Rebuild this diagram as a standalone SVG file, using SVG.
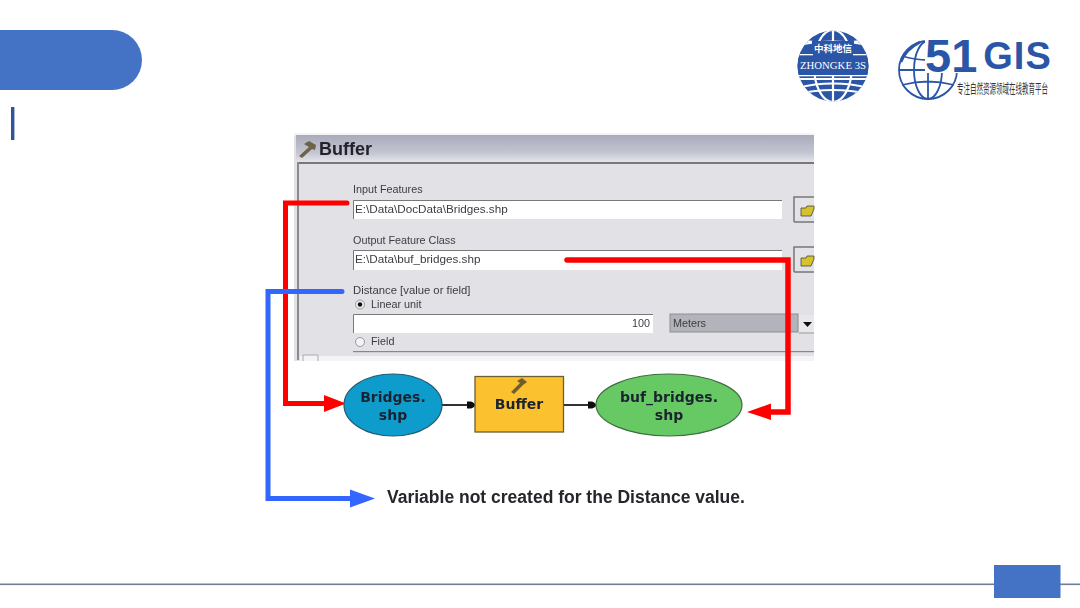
<svg xmlns="http://www.w3.org/2000/svg" width="1080" height="608" viewBox="0 0 1080 608">
<style>
.ui{font-family:"Liberation Sans",Arial,sans-serif;font-size:10.800px;fill:#3c3c40}
.val{font-size:11.700px}
.node{font-family:"DejaVu Sans",sans-serif;font-weight:bold;font-size:14px;fill:#1c2430;text-anchor:middle}
.field{fill:#fff}
.edge{fill:none;stroke-linejoin:miter}
.logo{fill:#2b55a6}
.cut{fill:none;stroke:#fff}
.btn{fill:#e4e4e8;stroke:#77777b;stroke-width:1.500}
.soft{filter:url(#soft)}
</style>
<defs>
<filter id="soft" x="-2%" y="-2%" width="104%" height="104%"><feGaussianBlur stdDeviation="0.400"/></filter>
<linearGradient id="title" x1="0" y1="0" x2="0" y2="1"><stop offset="0" stop-color="#a9abbc"/><stop offset="0.7" stop-color="#c4c6d2"/><stop offset="1" stop-color="#e2e2e8"/></linearGradient>
<marker id="dot" markerUnits="userSpaceOnUse" markerWidth="10" markerHeight="10" refX="9" refY="5" orient="auto"><path d="M1 1.500 L5 1.500 Q9 3 9 5 Q9 7 5 8.500 L1 8.500 Z" fill="#111"/></marker>
<clipPath id="g1"><circle cx="833" cy="66" r="35.500"/></clipPath>
<clipPath id="g2"><path d="M898 40H925V73H960V102H898Z"/></clipPath>
</defs>
<rect width="1080" height="608" fill="#fff"/>
<g id="header-tab"><path d="M0 30H112a30 30 0 0 1 0 60H0Z" fill="#4472c4"/></g>
<rect id="header-bar" x="11" y="107" width="3.400" height="33" fill="#2f5597"/>
<g id="footer"><rect x="0" y="583.500" width="1080" height="1.600" fill="#6d7f96"/><rect x="994" y="565" width="66.500" height="33" fill="#4472c4"/></g>

<g id="logo-zhongke">
<g clip-path="url(#g1)">
<circle cx="833" cy="66" r="36" class="logo"/>
<g class="cut" stroke-width="2.200">
<ellipse cx="833" cy="66" rx="19" ry="36"/>
<path d="M833 30V102"/>
<path d="M797 39Q833 48 869 39M797 88Q833 79 869 88M797 94Q833 86 869 94"/>
<path d="M797 45Q833 38 869 45"/>
</g>
<rect x="795" y="54" width="76" height="22" fill="#2b55a6"/>
<rect x="812" y="41" width="42" height="13" fill="#2b55a6"/>
<rect x="795" y="54" width="18" height="1.300" fill="#fff"/>
<rect x="853" y="54" width="18" height="1.300" fill="#fff"/>
<rect x="795" y="75" width="76" height="1.300" fill="#fff"/>
<rect x="795" y="78" width="76" height="2" fill="#fff"/>
</g>
<text x="833" y="51.500" text-anchor="middle" font-family="'Noto Sans CJK SC',sans-serif" font-weight="bold" font-size="9.500px" fill="#fff">中科地信</text>
<text x="833" y="69" text-anchor="middle" font-family="'Liberation Serif',serif" font-size="9.500px" fill="#fff" textLength="66" lengthAdjust="spacingAndGlyphs">ZHONGKE 3S</text>
</g>

<g id="logo-51gis">
<g clip-path="url(#g2)" fill="none" stroke="#2b55a6" stroke-width="1.800">
<circle cx="928" cy="70" r="29"/>
<ellipse cx="928" cy="70" rx="14" ry="29"/>
<path d="M928 41V99M899 70H957M902 56Q928 64 954 56M902 85Q928 78 954 85"/>
<path d="M901 62Q905 50 920 42" stroke-width="2.600"/>
</g>
<text x="925" y="71.500" font-family="'Liberation Sans',sans-serif" font-weight="bold" fill="#2b55a6"><tspan font-size="47px">51</tspan><tspan y="69" dx="6" font-size="38px" letter-spacing="1">GIS</tspan></text>
<text transform="translate(957 93) scale(0.5 1)" font-family="'Noto Sans CJK SC',sans-serif" font-size="13px" fill="#333">专注自然资源领域在线教育平台</text>
</g>

<g id="dialog" class="soft">
<rect x="294" y="133" width="520" height="228" fill="#e2e2e6"/>
<rect x="294" y="133" width="520" height="2.500" fill="#f4f4f6"/>
<rect x="296" y="135" width="518" height="26" fill="url(#title)"/>
<rect x="297" y="162" width="517" height="2" fill="#77777d"/>
<rect x="297" y="162" width="2" height="198" fill="#8a8a90"/>
<path d="M299 156L309 147L304 144L309 141L316 145L315 150L312 149L302 158Z" fill="#6e6248"/>
<text x="319" y="155" font-family="'Liberation Sans',sans-serif" font-weight="bold" font-size="18px" fill="#23232b">Buffer</text>
<text x="353" y="193" class="ui">Input Features</text>
<rect x="353" y="200" width="429" height="19" class="field"/><path d="M353.500 219V200.500H782" fill="none" stroke="#77777b"/>
<text x="355" y="213" class="ui val">E:\Data\DocData\Bridges.shp</text>
<text x="353" y="244" class="ui">Output Feature Class</text>
<rect x="353" y="250" width="429" height="20" class="field"/><path d="M353.500 270V250.500H782" fill="none" stroke="#77777b"/>
<text x="355" y="263" class="ui val">E:\Data\buf_bridges.shp</text>
<text x="353" y="294" class="ui" style="font-size:11.300px">Distance [value or field]</text>
<circle cx="360" cy="304.500" r="4.500" fill="#eee" stroke="#99999d"/><circle cx="360" cy="304.500" r="2.200" fill="#111"/>
<text x="371" y="308" class="ui">Linear unit</text>
<rect x="353" y="314" width="300" height="19" class="field"/><path d="M353.500 333V314.500H653" fill="none" stroke="#77777b"/>
<text x="650" y="327" class="ui" text-anchor="end">100</text>
<rect x="670" y="314" width="128" height="18" fill="#b2b3bb" stroke="#8d8d93"/>
<text x="673" y="327" class="ui">Meters</text>
<rect x="799" y="315" width="15" height="18" fill="#e8e8ec"/><path d="M799 333H814" stroke="#999"/><path d="M803 322H812L807.500 327Z" fill="#111"/>
<circle cx="360" cy="342" r="4.500" fill="#f4f4f6" stroke="#99999d"/>
<text x="371" y="345" class="ui">Field</text>
<rect x="353" y="351" width="461" height="1.200" fill="#88888c"/>
<rect x="300" y="356" width="514" height="5" fill="#f4f4f6"/>
<path d="M303 361V355H318V361" fill="#f4f4f6" stroke="#aaa"/>
<path d="M794 222V197H814M794 222H814" class="btn"/>
<path d="M794 272V247H814M794 272H814" class="btn"/>
<path d="M801 216V208H806L807 206H814V209L811 216Z" fill="#d6c22a" stroke="#444" stroke-width="0.800"/>
<path d="M801 266V258H806L807 256H814V259L811 266Z" fill="#d6c22a" stroke="#444" stroke-width="0.800"/>
</g>

<g id="connectors" class="soft">
<path class="edge" d="M442 405H475" stroke="#333" stroke-width="2" marker-end="url(#dot)"/>
<path class="edge" d="M563 405H596" stroke="#333" stroke-width="2" marker-end="url(#dot)"/>
<path class="edge" d="M347 203H285.500V403.500H326" stroke="#ff0000" stroke-width="5" stroke-linecap="round"/>
<path d="M346 403.500L324 395V412Z" fill="#ff0000"/>
<path class="edge" d="M567 260H788V412H770" stroke="#ff0000" stroke-width="5.500" stroke-linecap="round"/>
<path d="M747 412L771 403.500V420Z" fill="#ff0000"/>
<path class="edge" d="M342 291.500H268V498.500H352" stroke="#3366ff" stroke-width="5" stroke-linecap="round"/>
<path d="M375 498.500L350 489.500V507.500Z" fill="#3366ff"/>
</g>

<g id="node-bridges" class="soft"><ellipse cx="393" cy="405" rx="49" ry="31" fill="#0e9ccb" stroke="#23596e" stroke-width="1.200"/><text x="393" y="402" class="node">Bridges.</text><text x="393" y="420" class="node">shp</text></g>
<g id="node-buffer" class="soft"><rect x="475" y="376.500" width="88.500" height="55.500" fill="#fcc12e" stroke="#6b5f35" stroke-width="1.300"/><path d="M511 392L520 383L517 381L522 378L527 382L523 385L514 394Z" fill="#6e5f2e"/><text x="519" y="409" class="node">Buffer</text></g>
<g id="node-buf-bridges" class="soft"><ellipse cx="669" cy="405" rx="73" ry="31" fill="#66c963" stroke="#3f6e42" stroke-width="1.200"/><text x="669" y="402" class="node">buf_bridges.</text><text x="669" y="420" class="node">shp</text></g>
<text id="note" class="soft" x="387" y="503" font-family="'Liberation Sans',sans-serif" font-weight="bold" font-size="17.500px" fill="#26262c">Variable not created for the Distance value.</text>
</svg>
